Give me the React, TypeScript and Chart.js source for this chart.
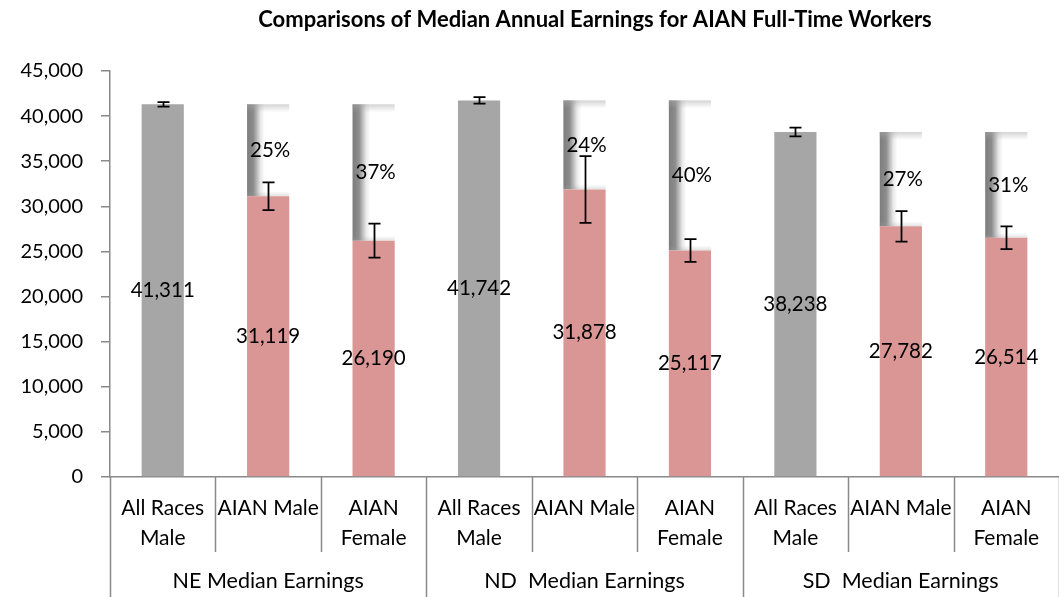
import React, { useEffect, useRef } from 'react';
import { Chart, registerables } from 'chart.js';

Chart.register(...registerables);

const TITLE = 'Comparisons of Median Annual Earnings for AIAN Full-Time Workers';
const categories: (string | string[])[] = [
  ['All Races', 'Male'], 'AIAN Male', ['AIAN', 'Female'],
  ['All Races', 'Male'], 'AIAN Male', ['AIAN', 'Female'],
  ['All Races', 'Male'], 'AIAN Male', ['AIAN', 'Female'],
];
const groups = ['NE Median Earnings', 'ND  Median Earnings', 'SD  Median Earnings'];
const earnings = [41311, 31119, 26190, 41742, 31878, 25117, 38238, 27782, 26514];
const errorMargins = [250, 1550, 1880, 370, 3700, 1260, 480, 1700, 1260];
const allRacesLevel: (number | null)[] = [null, 41311, 41311, null, 41742, 41742, null, 38238, 38238];
const gapLabels: (string | null)[] = [null, '25%', '37%', null, '24%', '40%', null, '27%', '31%'];
const yTicks = { min: 0, max: 45000, step: 5000 };

const GRAY = '#A6A6A6';
const PINK = '#D99694';
const AXIS = '#898989';
const FONT = 'Lato, "Open Sans", sans-serif';

const barColors = earnings.map((_, i) => (allRacesLevel[i] == null ? GRAY : PINK));
const gapData = earnings.map((v, i) => (allRacesLevel[i] == null ? null : [v, allRacesLevel[i] as number]));

const drawPlugin = {
  id: 'customDraw',
  beforeDatasetDraw(chart: any, args: any) {
    if (args.index !== 1) return;
    const ctx = chart.ctx;
    const meta = chart.getDatasetMeta(1);
    meta.data.forEach((bar: any, i: number) => {
      if (gapData[i] == null) return;
      const w = bar.width;
      const left = bar.x - w / 2;
      const top = Math.min(bar.y, bar.base);
      const bottom = Math.max(bar.y, bar.base);
      const h = bottom - top;
      ctx.save();
      const g = ctx.createLinearGradient(left, 0, left + w, 0);
      g.addColorStop(0, 'rgb(125,125,125)');
      g.addColorStop(0.15, 'rgb(140,140,140)');
      g.addColorStop(0.32, 'rgb(232,232,232)');
      g.addColorStop(0.42, 'rgb(255,255,255)');
      g.addColorStop(1, 'rgb(255,255,255)');
      ctx.fillStyle = g;
      ctx.fillRect(left, top, w, h);
      const gt = ctx.createLinearGradient(0, top, 0, top + 8);
      gt.addColorStop(0, 'rgba(170,170,170,0.5)');
      gt.addColorStop(1, 'rgba(170,170,170,0)');
      ctx.fillStyle = gt;
      ctx.fillRect(left, top, w, 8);
      const gb = ctx.createLinearGradient(0, bottom - 5, 0, bottom);
      gb.addColorStop(0, 'rgba(160,160,160,0)');
      gb.addColorStop(1, 'rgba(160,160,160,0.3)');
      ctx.fillStyle = gb;
      ctx.fillRect(left, bottom - 5, w, 5);
      ctx.restore();
    });
    return false;
  },
  afterDatasetsDraw(chart: any) {
    const ctx = chart.ctx;
    const y = chart.scales.y;
    const base = chart.getDatasetMeta(0);
    const gap = chart.getDatasetMeta(1);
    ctx.save();
    ctx.strokeStyle = '#000';
    ctx.lineWidth = 1.75;
    base.data.forEach((bar: any, i: number) => {
      const x = Math.round(bar.x) + 0.5;
      const hi = y.getPixelForValue(earnings[i] + errorMargins[i]);
      const lo = y.getPixelForValue(earnings[i] - errorMargins[i]);
      ctx.beginPath();
      ctx.moveTo(x, hi); ctx.lineTo(x, lo);
      ctx.moveTo(x - 6, hi); ctx.lineTo(x + 6, hi);
      ctx.moveTo(x - 6, lo); ctx.lineTo(x + 6, lo);
      ctx.stroke();
    });
    ctx.fillStyle = '#000';
    ctx.font = `20.5px ${FONT}`;
    ctx.textAlign = 'center';
    ctx.textBaseline = 'middle';
    base.data.forEach((bar: any, i: number) => {
      ctx.fillText(earnings[i].toLocaleString('en-US'), bar.x, (bar.y + bar.base) / 2);
    });
    gap.data.forEach((bar: any, i: number) => {
      const t = gapLabels[i];
      if (!t || gapData[i] == null) return;
      ctx.fillText(t, bar.x + 2, (bar.y + bar.base) / 2);
    });
    ctx.restore();
  },
  afterDraw(chart: any) {
    const ctx = chart.ctx;
    const xs = chart.scales.x;
    const area = chart.chartArea;
    const H = chart.height;
    ctx.save();
    ctx.fillStyle = '#000';
    ctx.font = `bold 22px ${FONT}`;
    ctx.textAlign = 'center';
    ctx.textBaseline = 'middle';
    ctx.fillText(TITLE, 595, 20);
    const n = categories.length;
    const bound = (i: number) => {
      if (i === 0) return area.left;
      if (i === n) return area.right - 0.5;
      return (xs.getPixelForValue(i - 1) + xs.getPixelForValue(i)) / 2;
    };
    ctx.strokeStyle = AXIS;
    ctx.lineWidth = 1.5;
    for (let i = 0; i <= n; i++) {
      const x = Math.round(bound(i)) + 0.5;
      ctx.beginPath();
      ctx.moveTo(x, area.bottom);
      ctx.lineTo(x, i % 3 === 0 ? H : area.bottom + 75);
      ctx.stroke();
    }
    ctx.fillStyle = '#000';
    ctx.font = `21.5px ${FONT}`;
    groups.forEach((g, gi) => {
      const cx = (bound(gi * 3) + bound(gi * 3 + 3)) / 2;
      ctx.fillText(g, cx, 581);
    });
    ctx.restore();
  },
};

export default function App() {
  const ref = useRef<HTMLCanvasElement>(null);
  useEffect(() => {
    document.body.style.margin = '0';
    const chart = new Chart(ref.current as HTMLCanvasElement, {
      type: 'bar',
      data: {
        labels: categories as any,
        datasets: [
          {
            data: earnings,
            backgroundColor: barColors,
            barPercentage: 0.4,
            categoryPercentage: 1,
          },
          {
            data: gapData as any,
            backgroundColor: 'rgba(0,0,0,0)',
            barPercentage: 0.4,
            categoryPercentage: 1,
          },
        ],
      },
      options: {
        responsive: true,
        maintainAspectRatio: false,
        animation: false,
        layout: { padding: { top: 71, left: 0, right: 0, bottom: 0 } },
        plugins: {
          legend: { display: false },
          tooltip: { enabled: false },
          title: { display: false },
        },
        scales: {
          x: {
            stacked: true,
            grid: { display: false },
            border: { display: true, color: AXIS, width: 1.5 },
            ticks: {
              color: '#000',
              font: { family: FONT, size: 21, lineHeight: 1.43 },
              padding: 8,
              maxRotation: 0,
              autoSkip: false,
            },
            afterFit: (s: any) => { s.height = 120; },
          },
          y: {
            stacked: false,
            min: yTicks.min,
            max: yTicks.max,
            ticks: {
              stepSize: yTicks.step,
              color: '#000',
              font: { family: FONT, size: 20 },
              padding: 18,
              callback: (v: any) => Number(v).toLocaleString('en-US'),
            },
            grid: { drawOnChartArea: false, tickLength: 9, color: AXIS, lineWidth: 1.5 },
            border: { color: AXIS, width: 1.5 },
            afterFit: (s: any) => { s.width = 110; },
          },
        },
      } as any,
      plugins: [drawPlugin],
    });
    return () => chart.destroy();
  }, []);
  return (
    <div style={{ width: 1059, height: 597, position: 'relative' }}>
      <canvas ref={ref} />
    </div>
  );
}
